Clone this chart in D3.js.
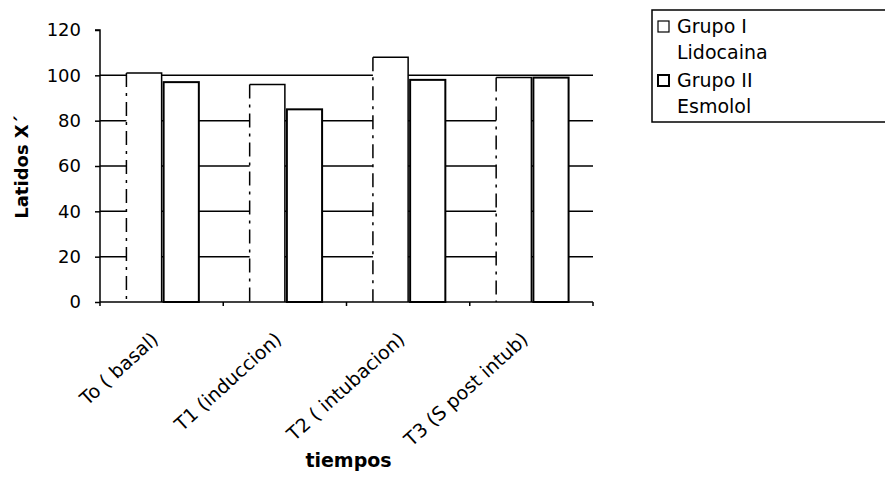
<!DOCTYPE html>
<html>
<head>
<meta charset="utf-8">
<script src="https://cdn.jsdelivr.net/npm/d3@7"></script>
<style>
  body { margin: 0; background: #fff; }
  text { font-family: "DejaVu Sans", Verdana, sans-serif; fill: #000; }
</style>
</head>
<body>
<svg id="chart" width="885" height="495"></svg>
<script>
const categories = ["To ( basal)", "T1 (induccion)", "T2 ( intubacion)", "T3 (S post intub)"];
const grupo1 = [101, 96, 108, 99];
const grupo2 = [97, 85, 98, 99];
const seriesNames = [["Grupo I", "Lidocaina"], ["Grupo II", "Esmolol"]];
const yTicks = [0, 20, 40, 60, 80, 100, 120];

const svg = d3.select("#chart");
const margin = { left: 100, right: 292, top: 30, bottom: 193 };
const width = 885 - margin.left - margin.right;
const height = 495 - margin.top - margin.bottom;

const g = svg.append("g").attr("transform", `translate(${margin.left},${margin.top})`);

const x = d3.scaleBand().domain(categories).range([0, width]).paddingInner(0).paddingOuter(0);
const y = d3.scaleLinear().domain([0, 120]).range([height, 0]);

// bars: gap width 150% like Excel
const barW = x.bandwidth() / 3.5;
const offset = barW * 0.75;

// gridlines
g.append("g").selectAll("line")
  .data(yTicks.filter(d => d > 0 && d < 120))
  .enter().append("line")
  .attr("x1", 0).attr("x2", width)
  .attr("y1", d => y(d)).attr("y2", d => y(d))
  .attr("stroke", "#000").attr("stroke-width", 1.5);

// Grupo I bars (dashed left edge)
const b1 = g.append("g").selectAll("g")
  .data(categories.map((c, i) => ({ c, v: grupo1[i] })))
  .enter().append("g");
b1.append("rect")
  .attr("x", d => x(d.c) + offset)
  .attr("y", d => y(d.v))
  .attr("width", barW)
  .attr("height", d => height - y(d.v))
  .attr("fill", "#fff");
b1.append("line")
  .attr("x1", d => x(d.c) + offset).attr("x2", d => x(d.c) + offset)
  .attr("y1", d => y(d.v)).attr("y2", height)
  .attr("stroke", "#000").attr("stroke-width", 1.5)
  .attr("stroke-dasharray", "14,6,3,6");
b1.append("path")
  .attr("d", d => `M${x(d.c) + offset},${y(d.v)}H${x(d.c) + offset + barW}V${height}`)
  .attr("fill", "none").attr("stroke", "#000").attr("stroke-width", 1.5);

// Grupo II bars
g.append("g").selectAll("rect")
  .data(categories.map((c, i) => ({ c, v: grupo2[i] })))
  .enter().append("rect")
  .attr("x", d => x(d.c) + offset + barW + 2)
  .attr("y", d => y(d.v))
  .attr("width", barW)
  .attr("height", d => height - y(d.v))
  .attr("fill", "#fff")
  .attr("stroke", "#000").attr("stroke-width", 2);

// y axis
const yAxis = g.append("g")
  .call(d3.axisLeft(y).tickValues(yTicks).tickSize(5).tickPadding(14));
yAxis.select(".domain").attr("stroke-width", 1.5).attr("d", `M-5,0H0V${height}`);
yAxis.selectAll(".tick line").attr("stroke-width", 1.5);
yAxis.selectAll("text").style("font-size", "18px");

// x axis
const xAxis = g.append("g")
  .attr("transform", `translate(0,${height})`)
  .call(d3.axisBottom(x).tickSize(0).tickPadding(0));
xAxis.select(".domain").attr("stroke-width", 1.5).attr("d", `M0,0H${width}`);
xAxis.selectAll(".tick text")
  .style("font-size", "19px")
  .attr("text-anchor", "end")
  .attr("dy", 0)
  .attr("transform", "translate(-2,39) rotate(-42)");
g.append("g").selectAll("line")
  .data(d3.range(categories.length + 1))
  .enter().append("line")
  .attr("x1", i => i * x.step()).attr("x2", i => i * x.step())
  .attr("y1", height).attr("y2", height + 4)
  .attr("stroke", "#000").attr("stroke-width", 1.5);

// axis titles
svg.append("text")
  .attr("transform", `translate(28,167) rotate(-90)`)
  .attr("text-anchor", "middle")
  .style("font-size", "18px").style("font-weight", "bold")
  .text("Latidos X´");
svg.append("text")
  .attr("x", margin.left + width / 2 + 2).attr("y", 467)
  .attr("text-anchor", "middle")
  .style("font-size", "19px").style("font-weight", "bold")
  .text("tiempos");

// legend
const legend = svg.append("g");
legend.append("rect")
  .attr("x", 652).attr("y", 10).attr("width", 240).attr("height", 112)
  .attr("fill", "#fff").attr("stroke", "#000").attr("stroke-width", 1.5);
seriesNames.forEach((lines, i) => {
  const ly = 33 + i * 54;
  legend.append("rect")
    .attr("x", 658).attr("y", ly - 12).attr("width", 11).attr("height", 11)
    .attr("fill", "#fff").attr("stroke", "#000")
    .attr("stroke-width", i === 0 ? 1.2 : 2);
  legend.append("text")
    .attr("x", 677).attr("y", ly)
    .style("font-size", "19px")
    .selectAll("tspan")
    .data(lines)
    .enter().append("tspan")
    .attr("x", 677)
    .attr("dy", (d, j) => j === 0 ? 0 : 26)
    .text(d => d);
});
</script>
</body>
</html>
